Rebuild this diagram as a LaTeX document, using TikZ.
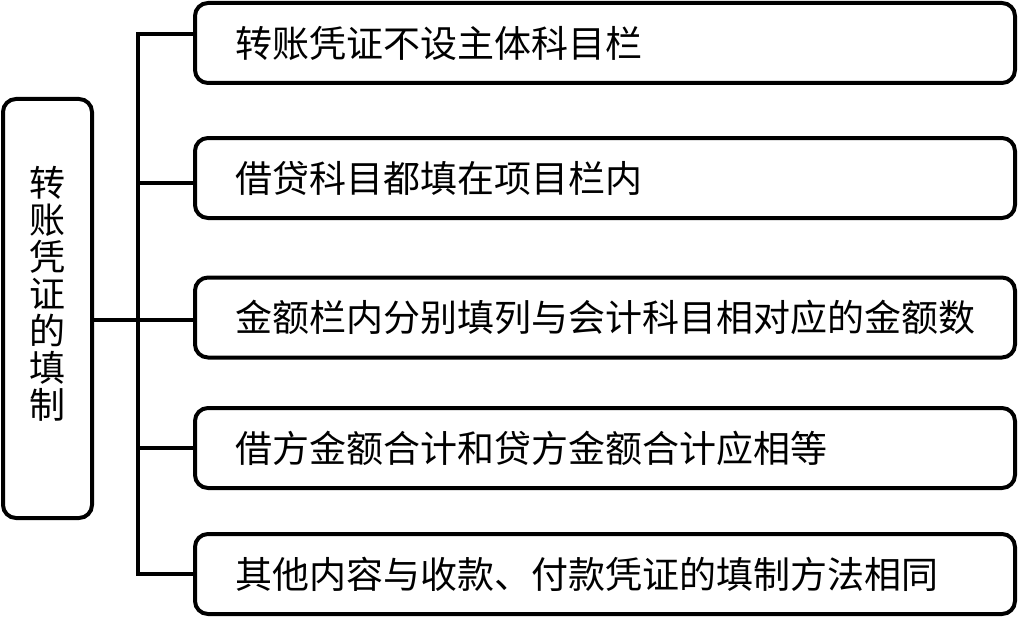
\documentclass[tikz,border=0pt]{standalone}
\usepackage{fontspec}
\newfontfamily\cjk{Noto Sans CJK SC}
\begin{document}
\begin{tikzpicture}[
  x=1pt, y=-1pt,
  every node/.style={font=\cjk\fontsize{37}{44}\selectfont},
  itembox/.style={rectangle, draw, line width=4pt, rounded corners=13pt,
    minimum width=820pt, minimum height=80pt, text width=740pt,
    align=left, inner xsep=40pt, inner ysep=0pt},
  titlebox/.style={rectangle, draw, line width=4pt, rounded corners=13pt,
    minimum width=89pt, minimum height=419pt, inner sep=0pt},
  titletext/.style={align=center, font=\cjk\fontsize{36}{37}\selectfont,
    inner sep=0pt},
  link/.style={line width=4pt, line join=miter},
]
\useasboundingbox (0,0) rectangle (1018,618);

% Left: title box
\node[titlebox] (title) at (47.5,308.5) {};
\node[titletext] (titlelabel) at (47.5,294) {转\\账\\凭\\证\\的\\填\\制};

% Right column: items
\node[itembox] (b1) at (605,43) {转账凭证不设主体科目栏};
\node[itembox] (b2) at (605,178) {借贷科目都填在项目栏内};
\node[itembox] (b3) at (605,317.5) {金额栏内分别填列与会计科目相对应的金额数};
\node[itembox] (b4) at (605,448) {借方金额合计和贷方金额合计应相等};
\node[itembox] (b5) at (605,574) {其他内容与收款、付款凭证的填制方法相同};

% Bus junctions
\coordinate (j1) at (138,34);
\coordinate (j2) at (138,183);
\coordinate (j3) at (138,320);
\coordinate (j4) at (138,448);
\coordinate (j5) at (138,574);

% Connectors
\draw[link] (j1 -| b1.west) -- (j1) -- (j5) -- (j5 -| b5.west);
\draw[link] (title.east |- j3) -- (j3 -| b3.west);
\draw[link] (j2) -- (j2 -| b2.west);
\draw[link] (j4) -- (j4 -| b4.west);

\end{tikzpicture}
\end{document}
